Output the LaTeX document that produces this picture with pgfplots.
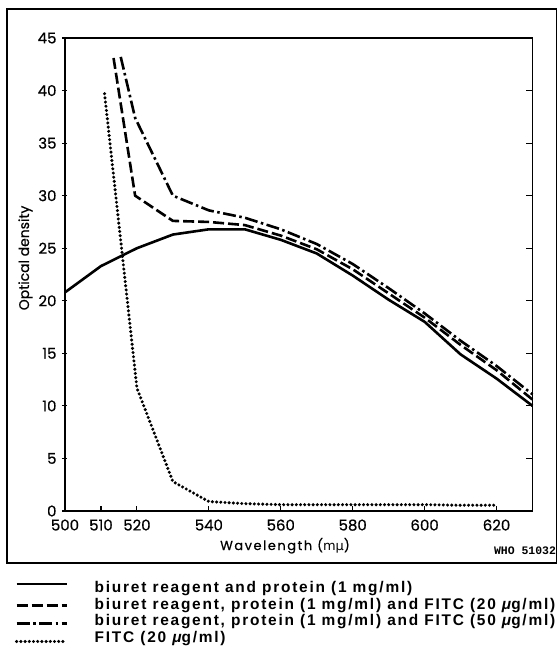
\documentclass[border=0pt]{standalone}
\usepackage{fontspec}
\usepackage{pgfplots}
\pgfplotsset{compat=1.18}
\newfontfamily\axfont{Poppins}[FakeBold=0.6]
\newfontfamily\axfontsp{Poppins}[FakeBold=0.5, LetterSpace=12]
\newfontfamily\legfont[LetterSpace=11.5]{Liberation Sans}
\newfontfamily\monofont{Liberation Mono}
\newfontfamily\greekfont{DejaVu Sans}
\pgfplotsset{
  legA/.style={legend image code/.code={\draw[##1] (0bp,5bp) -- (50bp,5bp); \path[draw=none] (0bp,0bp) -- (78bp,0bp);}},
  legB/.style={legend image code/.code={\draw[##1] (0bp,0bp) -- (50bp,0bp); \path[draw=none] (0bp,0bp) -- (78bp,0bp);}},
  legC/.style={legend image code/.code={\draw[##1] (0bp,-1.5bp) -- (50bp,-1.5bp); \path[draw=none] (0bp,0bp) -- (78bp,0bp);}},
  legD/.style={legend image code/.code={\draw[##1] (0bp,-3bp) -- (50bp,-3bp); \path[draw=none] (0bp,0bp) -- (78bp,0bp);}},
}
\begin{document}
\begin{tikzpicture}
\useasboundingbox (0bp,0bp) rectangle (558bp,647bp);
\draw[line width=1.3bp] (7bp,84bp) rectangle (556.5bp,638bp);
\begin{axis}[
  at={(65bp,136bp)}, anchor=south west,
  scale only axis, width=467.5bp, height=473bp,
  xmin=500, xmax=630, ymin=0, ymax=45,
  clip=false,
  axis line style={line width=1.3bp},
  xtick={500,510,520,540,560,580,600,620},
  ytick={0,5,...,45},
  xtick pos=bottom, ytick pos=left,
  tick align=inside,
  major tick length=5bp,
  tick style={line width=1.1bp, black},
  ytick style={xshift=-3bp},
  /pgf/number format/assume math mode=true,
  tick label style={font=\axfont\fontsize{15}{15}\selectfont},
  yticklabel style={xshift=-5bp},
  xticklabel style={yshift=-5bp},
  legend style={at={(axis description cs:-0.107,-0.149)}, anchor=north west,
    draw=none, fill=none, inner sep=0pt, outer sep=0pt,
    row sep=1.5bp, column sep=0pt,
    nodes={inner sep=0pt, text height=11.5bp, text depth=3.5bp},
    font=\legfont\bfseries\fontsize{15.5}{15.5}\selectfont},
  legend cell align=left,
]
\addplot[black, line width=2.6bp, line join=round, legA] coordinates {
(500,20.8) (510,23.3) (520,25.0) (530,26.3) (540,26.8) (550,26.8) (560,25.8)
(570,24.5) (580,22.4) (590,20.1) (600,18.0) (610,14.9) (620,12.6) (630,10.0)};
\addlegendentry{biuret reagent and protein (1 mg/ml)}
\addplot[black, line width=2.6bp, line join=round, dash pattern=on 11bp off 4bp, legB] coordinates {
(513.5,43.1) (519.5,30.0) (530,27.6) (540,27.5) (550,27.2) (560,26.2)
(570,24.9) (580,23.0) (590,20.7) (600,18.4) (610,15.8) (620,13.4) (630,10.6)};
\addlegendentry{biuret reagent, protein (1 mg/ml) and FITC (20 {\itshape μ}g/ml)}
\addplot[black, line width=2.6bp, line join=round, dash pattern=on 13bp off 3.5bp on 2.5bp off 3.5bp, legC] coordinates {
(515.5,43.2) (519.5,37.4) (530,30.0) (540,28.6) (550,27.9) (560,26.8)
(570,25.4) (580,23.5) (590,21.2) (600,18.8) (610,16.2) (620,13.8) (630,11.1)};
\addlegendentry{biuret reagent, protein (1 mg/ml) and FITC (50 {\itshape μ}g/ml)}
\addplot[black, line width=3.4bp, line cap=round, dash pattern=on 0bp off 4.2bp, legD] coordinates {
(511,39.7) (520,11.7) (530,2.8) (540,0.9) (550,0.7) (560,0.6) (570,0.6)
(580,0.6) (590,0.6) (600,0.6) (610,0.55) (620,0.55)};
\addlegendentry{FITC (20 {\itshape μ}g/ml)}
\node[font=\axfontsp\fontsize{13}{13}\selectfont, anchor=base] at (rel axis cs:0.4706,-0.0825) {Wavelength ({\greekfont m}{\greekfont μ})};
\node[font=\axfont\fontsize{14}{14}\selectfont, rotate=90] at (rel axis cs:-0.0845,0.535) {Optical density};
\node[font=\monofont\bfseries\fontsize{11.5}{11.5}\selectfont] at (rel axis cs:0.984,-0.0846) {WHO 51032};
\end{axis}
\begin{axis}[
  at={(65bp,136bp)}, anchor=south west,
  scale only axis, width=467.5bp, height=473bp,
  xmin=500, xmax=630, ymin=0, ymax=45,
  axis line style={draw=none},
  xtick=\empty, ytick={5,10,...,40}, yticklabels={},
  ytick pos=right, tick align=inside, major tick length=7bp,
  tick style={line width=1.1bp, black},
]
\end{axis}
\end{tikzpicture}
\end{document}
